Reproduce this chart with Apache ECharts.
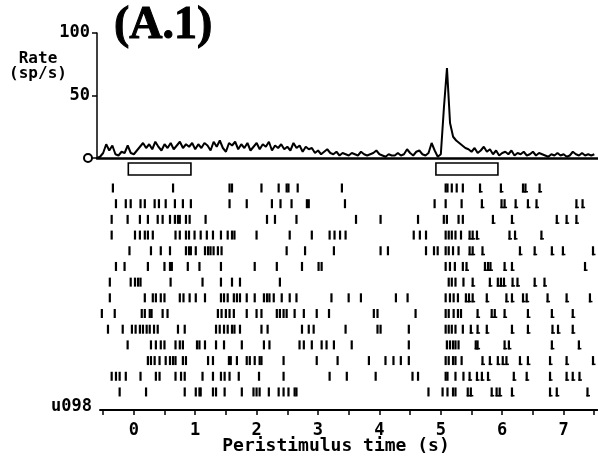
<!DOCTYPE html>
<html><head><meta charset="utf-8">
<script src="https://cdn.jsdelivr.net/npm/echarts@6/dist/echarts.min.js"></script>
<style>html,body{margin:0;padding:0;background:#fff}#c{width:598px;height:470px}</style>
</head><body><div id="c"></div>
<script>
// ---- DATA ----
const BIN_START = -0.6, BIN_WIDTH = 0.05;
const psthRate = [
 0, 1, 4, 11, 6, 10, 3, 2, 5, 4,
 10, 4, 3, 6, 9, 12, 8, 11, 7, 13,
 9, 6, 11, 8, 12, 7, 10, 13, 8, 11,
 9, 12, 7, 11, 8, 12, 10, 6, 13, 9,
 14, 8, 5, 12, 10, 13, 7, 11, 8, 12,
 6, 9, 12, 7, 11, 9, 13, 6, 10, 8,
 11, 7, 9, 6, 12, 8, 10, 5, 9, 7,
 8, 4, 6, 3, 5, 7, 4, 3, 5, 2,
 4, 3, 2, 4, 3, 2, 5, 3, 2, 3,
 4, 6, 3, 2, 1, 3, 2, 2, 4, 2,
 3, 7, 4, 2, 5, 6, 3, 2, 4, 12,
 6, 1, 3, 40, 72, 28, 17, 14, 12, 10,
 8, 7, 5, 8, 4, 6, 9, 5, 7, 3,
 6, 2, 4, 5, 3, 6, 2, 4, 3, 5,
 2, 3, 5, 2, 4, 3, 2, 1, 3, 2,
 4, 2, 3, 1, 2, 5, 3, 2, 4, 2,
 3, 2, 3];
const rateTicks = [0, 50, 100];
const timeTickLabels = [0, 1, 2, 3, 4, 5, 6, 7];
const timeTicks = [-0.5, 0, 0.5, 1, 1.5, 2, 2.5, 3, 3.5, 4, 4.5, 5, 5.5, 6, 6.5, 7, 7.5];
const stimOn = [-0.09, 4.92];
const stimOff = [0.93, 5.93];

const trial01 = [-0.34, 0.64, 1.56, 1.60, 2.08, 2.36, 2.49, 2.52, 2.67, 3.39, 5.08, 5.11, 5.18, 5.26, 5.36, 5.64, 5.98, 6.34, 6.38, 6.61];
const trial02 = [-0.29, -0.13, -0.05, 0.11, 0.18, 0.34, 0.41, 0.52, 0.67, 0.80, 0.93, 1.56, 1.84, 2.25, 2.39, 2.57, 2.82, 2.85, 3.44, 4.90, 5.08, 5.34, 5.67, 5.99, 6.04, 6.22, 6.42, 6.56, 7.21, 7.31];
const trial03 = [-0.36, -0.10, 0.10, 0.23, 0.39, 0.47, 0.59, 0.67, 0.72, 0.75, 0.85, 0.91, 1.17, 2.17, 2.30, 2.65, 3.62, 4.02, 4.63, 5.05, 5.10, 5.29, 5.36, 5.85, 6.16, 6.89, 7.05, 7.21];
const trial04 = [-0.36, 0.02, 0.10, 0.18, 0.23, 0.31, 0.68, 0.75, 0.85, 0.90, 0.99, 1.09, 1.19, 1.29, 1.42, 1.53, 1.60, 1.64, 2.00, 2.54, 2.90, 3.19, 3.27, 3.36, 3.45, 4.56, 4.66, 4.76, 5.08, 5.13, 5.18, 5.24, 5.33, 5.47, 5.52, 5.59, 6.12, 6.21, 6.64];
const trial05 = [-0.07, 0.28, 0.44, 0.59, 0.85, 0.90, 0.93, 1.01, 1.16, 1.21, 1.25, 1.30, 1.37, 1.43, 2.49, 2.79, 3.26, 4.02, 4.14, 4.76, 4.89, 4.95, 5.08, 5.13, 5.20, 5.29, 5.47, 5.52, 5.68, 6.29, 6.53, 6.81, 6.99, 7.48];
const trial06 = [-0.29, -0.15, 0.23, 0.50, 0.59, 0.62, 0.88, 1.07, 1.42, 1.97, 2.33, 2.74, 3.01, 3.06, 5.08, 5.15, 5.23, 5.36, 5.42, 5.72, 5.77, 5.81, 6.04, 6.16, 7.35];
const trial07 = [-0.39, -0.05, 0.02, 0.07, 0.11, 0.60, 1.12, 1.42, 1.60, 1.73, 2.38, 5.13, 5.18, 5.24, 5.37, 5.52, 5.80, 5.93, 5.98, 6.03, 6.17, 6.25, 6.53, 6.69];
const trial08 = [-0.39, 0.18, 0.31, 0.36, 0.44, 0.50, 0.75, 0.81, 0.91, 1.01, 1.16, 1.42, 1.47, 1.53, 1.63, 1.68, 1.73, 1.84, 1.97, 2.12, 2.17, 2.21, 2.28, 2.41, 2.54, 2.65, 3.22, 3.50, 3.70, 4.27, 4.46, 5.08, 5.15, 5.21, 5.28, 5.41, 5.46, 5.52, 5.75, 6.07, 6.16, 6.34, 6.40, 6.74, 7.05, 7.43];
const trial09 = [-0.52, -0.31, 0.13, 0.18, 0.26, 0.29, 0.47, 0.55, 1.37, 1.43, 1.50, 1.56, 1.63, 1.84, 2.00, 2.08, 2.33, 2.38, 2.44, 2.49, 2.62, 2.77, 2.98, 3.18, 3.91, 3.97, 4.59, 5.08, 5.13, 5.21, 5.28, 5.33, 5.60, 5.83, 5.88, 6.04, 6.42, 6.81, 7.15];
const trial10 = [-0.42, -0.18, -0.03, 0.03, 0.10, 0.15, 0.21, 0.26, 0.33, 0.39, 0.72, 0.83, 1.34, 1.40, 1.47, 1.53, 1.60, 1.64, 1.73, 2.08, 2.18, 2.74, 2.85, 2.93, 3.45, 3.97, 4.02, 4.48, 5.08, 5.13, 5.18, 5.24, 5.36, 5.49, 5.60, 5.75, 6.16, 6.42, 6.82, 6.91, 7.15];
const trial11 = [-0.10, 0.28, 0.36, 0.44, 0.50, 0.68, 0.75, 0.80, 1.03, 1.07, 1.16, 1.34, 1.47, 1.76, 2.12, 2.21, 2.70, 2.77, 2.90, 3.06, 3.14, 3.26, 3.55, 4.48, 5.10, 5.15, 5.20, 5.24, 5.29, 5.57, 5.60, 6.04, 6.11, 6.81, 7.25];
const trial12 = [0.23, 0.28, 0.34, 0.42, 0.52, 0.59, 0.64, 0.68, 0.80, 0.85, 1.21, 1.29, 1.55, 1.58, 1.68, 1.84, 1.89, 1.97, 2.05, 2.08, 2.44, 2.98, 3.32, 3.83, 4.10, 4.23, 4.35, 4.48, 5.08, 5.13, 5.20, 5.24, 5.34, 5.68, 5.80, 5.93, 6.01, 6.07, 6.29, 6.42, 6.78, 7.05, 7.48];
const trial13 = [-0.36, -0.29, -0.23, -0.13, 0.11, 0.36, 0.42, 0.68, 0.77, 0.83, 1.12, 1.29, 1.42, 1.48, 1.56, 1.71, 2.04, 2.44, 3.19, 3.47, 3.94, 4.54, 4.63, 5.08, 5.11, 5.24, 5.37, 5.47, 5.59, 5.67, 5.77, 6.19, 6.40, 6.78, 7.05, 7.15, 7.26];
const trial14 = [-0.23, 0.20, 0.83, 1.01, 1.07, 1.09, 1.29, 1.34, 1.48, 1.76, 1.95, 2.00, 2.05, 2.20, 2.36, 2.44, 2.52, 2.62, 2.65, 4.80, 5.03, 5.11, 5.20, 5.24, 5.44, 5.49, 5.83, 5.91, 5.96, 6.16, 6.78, 6.89, 7.39];
const trials = [trial01, trial02, trial03, trial04, trial05, trial06, trial07, trial08, trial09, trial10, trial11, trial12, trial13, trial14];
const footedAfter = 5.4; // post-response ticks drawn with a small foot, as in the plot

// ---- BUILD ----
const MONO = '"DejaVu Sans Mono", "Liberation Mono", monospace';
const psthData = psthRate.map((v, i) => [+(BIN_START + i * BIN_WIDTH).toFixed(3), v]);
const rasterData = [];
trials.forEach((tr, r) => tr.forEach(t => rasterData.push([t, r + 1])));
const stimData = stimOn.map((s, i) => [s, stimOff[i]]);

const chart = echarts.init(document.getElementById('c'), null, {renderer: 'canvas'});
chart.setOption({
  animation: false,
  backgroundColor: '#fff',
  title: [
    {text: '(A.1)', left: 114, top: 3, padding: 0,
     textStyle: {fontFamily: '"Liberation Serif", serif', fontWeight: 'bold', fontSize: 46, color: '#000',
                 textBorderColor: '#000', textBorderWidth: 1}},
    {text: 'Rate\n(sp/s)', left: 38, top: 51, padding: 0, textAlign: 'center',
     textStyle: {fontFamily: MONO, fontWeight: 'bold', fontSize: 16, lineHeight: 15, color: '#000'}},
    {text: 'u098', left: 51, top: 398, padding: 0,
     textStyle: {fontFamily: MONO, fontWeight: 'bold', fontSize: 17, color: '#000'}},
    {text: 'Peristimulus time (s)', left: 336, top: 437, padding: 0, textAlign: 'center',
     textStyle: {fontFamily: MONO, fontWeight: 'bold', fontSize: 18, color: '#000'}}
  ],
  grid: [
    {left: 97, right: 0.6, top: 33, height: 125},
    {left: 97, right: 0.6, top: 163, height: 12},
    {left: 100, right: 0.7, top: 180, height: 230}
  ],
  xAxis: [
    {gridIndex: 0, type: 'value', min: -0.6, max: 7.55,
     axisLine: {lineStyle: {color: '#000', width: 2.5}}, axisTick: {show: false},
     axisLabel: {show: false}, splitLine: {show: false}},
    {gridIndex: 1, type: 'value', min: -0.6, max: 7.55, show: false},
    {gridIndex: 2, type: 'value', min: -0.55, max: 7.55,
     axisLine: {onZero: false, lineStyle: {color: '#000', width: 2}},
     axisTick: {customValues: timeTicks, length: 5, lineStyle: {color: '#000', width: 1.5}},
     axisLabel: {customValues: timeTickLabels, margin: 12, fontFamily: MONO, fontWeight: 'bold', fontSize: 17, color: '#000'},
     splitLine: {show: false}}
  ],
  yAxis: [
    {gridIndex: 0, type: 'value', min: 0, max: 100, interval: 50,
     axisLine: {show: true, onZero: false, lineStyle: {color: '#000', width: 1.5}},
     axisTick: {show: true, customValues: rateTicks, length: 5, lineStyle: {color: '#000', width: 1.5}},
     axisLabel: {customValues: rateTicks, margin: 5,
       formatter: v => v === 0 ? '{c|}' : '{n|' + v + '}',
       rich: {
         c: {width: 8, height: 8, borderColor: '#000', borderWidth: 2, borderRadius: 6},
         n: {fontFamily: MONO, fontWeight: 'bold', fontSize: 17, color: '#000', padding: [0, 2, 0, 0]}
       }},
     splitLine: {show: false}},
    {gridIndex: 1, type: 'value', min: 0, max: 1, show: false},
    {gridIndex: 2, type: 'value', inverse: true, min: 0.49, max: 15.15, show: false}
  ],
  series: [
    {type: 'line', xAxisIndex: 0, yAxisIndex: 0, data: psthData, symbol: 'none',
     lineStyle: {color: '#000', width: 2}, z: 5, silent: true},
    {type: 'custom', xAxisIndex: 1, yAxisIndex: 1, data: stimData, silent: true,
     renderItem: (params, api) => {
       const p1 = api.coord([api.value(0), 1]);
       const p2 = api.coord([api.value(1), 0]);
       return {type: 'rect', shape: {x: p1[0], y: p1[1], width: p2[0] - p1[0], height: p2[1] - p1[1]},
               style: {fill: '#fff', stroke: '#000', lineWidth: 1.6}};
     }},
    {type: 'custom', xAxisIndex: 2, yAxisIndex: 2, data: rasterData, silent: true,
     renderItem: (params, api) => {
       const t = api.value(0);
       const p = api.coord([t, api.value(1)]);
       const children = [{type: 'rect', shape: {x: p[0] - 1.1, y: p[1] - 4.5, width: 2.2, height: 9}, style: {fill: '#000'}}];
       if (t > footedAfter) {
         children.push({type: 'rect', shape: {x: p[0] - 1.1, y: p[1] + 3, width: 3.6, height: 1.5}, style: {fill: '#000'}});
       }
       return {type: 'group', children: children};
     }}
  ]
});
</script></body></html>
